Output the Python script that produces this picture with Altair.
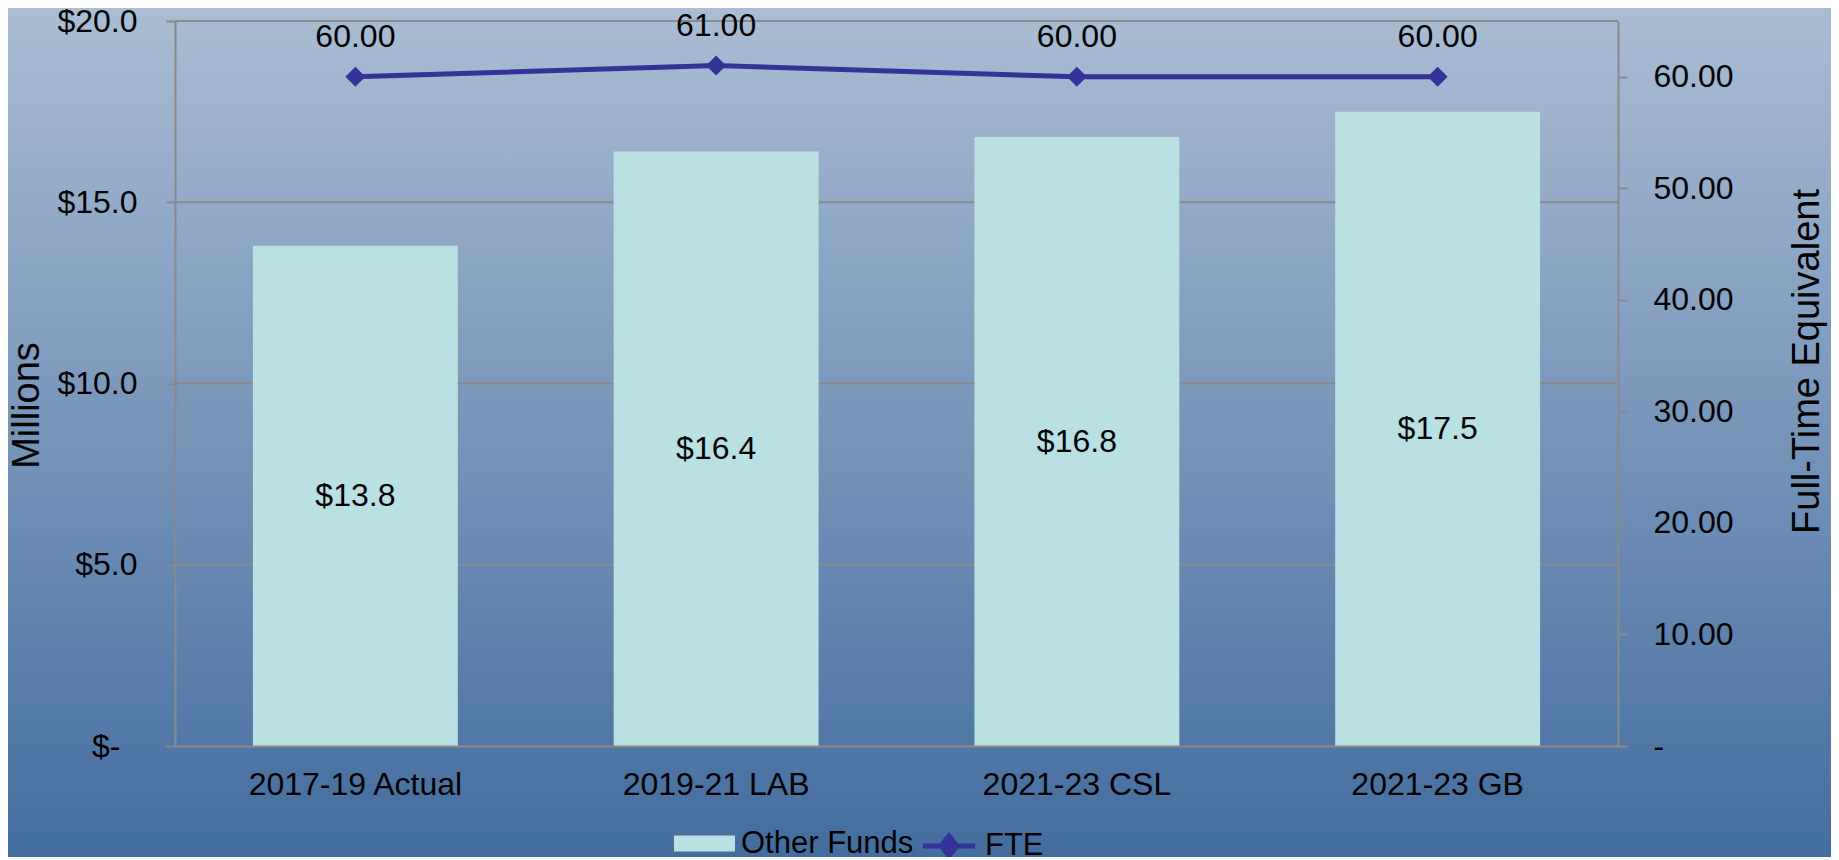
import altair as alt
import pandas as pd

# ---- data ----
categories = ["2017-19 Actual", "2019-21 LAB", "2021-23 CSL", "2021-23 GB"]
other_funds = [13.8, 16.4, 16.8, 17.5]
fte = [60.0, 61.0, 60.0, 60.0]
funds_ticks = [0, 5, 10, 15, 20]
fte_ticks = [0, 10, 20, 30, 40, 50, 60]
series_names = ["Other Funds", "FTE"]

# ---- style ----
W, H = 1443, 725
PAD = {"left": 167, "top": 13, "right": 213, "bottom": 111}
FONT = "Liberation Sans"
FS = 32
TFS = 38
GRAY = "#8A8A8A"
BAR_COLOR = "#B9E0E3"
LINE_COLOR = "#333399"

df = pd.DataFrame({"cat": categories, "funds": other_funds, "fte": fte})
df["funds_series"] = series_names[0]
df["fte_series"] = series_names[1]
grid_df = pd.DataFrame({"g": funds_ticks[1:]})
bg_df = pd.DataFrame({"k": [0]})

x_enc = alt.X(
    "cat:N", sort=categories, title=None,
    scale=alt.Scale(paddingInner=0.432, paddingOuter=0.216),
    axis=alt.Axis(labelAngle=0, ticks=False, tickSize=0, labelPadding=23,
                  labelBaseline="top", labelLimit=0, zindex=3),
)

funds_scale = alt.Scale(domain=[0, 20], nice=False, zero=True)
funds_axis = alt.Axis(
    values=funds_ticks, title="Millions", orient="left",
    labelExpr="datum.value == 0 ? '$-' : '$' + format(datum.value, '.1f')",
    tickSize=9,
    labelPadding={"condition": {"test": "datum.value == 0", "value": 46}, "value": 29},
    titleAngle=270, titleAlign="center", titleBaseline="middle",
    titleX=-148, titleY=384, zindex=3,
)
fte_scale = alt.Scale(domain=[0, 65], nice=False, zero=True)
fte_axis = alt.Axis(
    values=fte_ticks, title="Full-Time Equivalent", orient="right",
    labelExpr="datum.value == 0 ? '-' : format(datum.value, '.2f')",
    tickSize=9, labelPadding=26, labelAlign="left",
    titleAngle=270, titleAlign="center", titleBaseline="middle",
    titleX=189, titleY=340, zindex=3,
)

gradient = alt.Gradient(
    gradient="linear",
    stops=[alt.GradientStop(color="#AABDD4", offset=0),
           alt.GradientStop(color="#436D9E", offset=1)],
    x1=0, x2=0, y1=0, y2=1,
)
bg = alt.Chart(bg_df).mark_rect(fill=gradient, clip=False).encode(
    x=alt.value(-PAD["left"]), x2=alt.value(W + PAD["right"]),
    y=alt.value(-PAD["top"]), y2=alt.value(H + PAD["bottom"]),
)

grid = alt.Chart(grid_df).mark_rule(color=GRAY, strokeWidth=2).encode(
    y=alt.Y("g:Q", scale=funds_scale, axis=funds_axis),
    x=alt.value(0), x2=alt.value(W),
)

bars = alt.Chart(df).mark_bar().encode(
    x=x_enc,
    y=alt.Y("funds:Q", scale=funds_scale, axis=funds_axis),
    fill=alt.Fill(
        "funds_series:N",
        scale=alt.Scale(domain=[series_names[0]], range=[BAR_COLOR]),
        legend=alt.Legend(
            title=None, orient="none", legendX=499, legendY=792,
            symbolType="M-1,-0.26L1,-0.26L1,0.26L-1,0.26Z",
            symbolSize=3721, symbolStrokeWidth=0, labelOffset=6,
        ),
    ),
)

bar_text = alt.Chart(df).transform_calculate(
    mid="datum.funds / 2",
    lbl="'$' + format(datum.funds, '.1f')",
).mark_text(font=FONT, fontSize=FS, color="black", baseline="middle").encode(
    x=x_enc,
    y=alt.Y("mid:Q", scale=funds_scale, axis=funds_axis),
    text="lbl:N",
)

left = alt.layer(grid, bars, bar_text)

line = alt.Chart(df).mark_line(strokeWidth=5).encode(
    x=x_enc,
    y=alt.Y("fte:Q", scale=fte_scale, axis=fte_axis),
    stroke=alt.Stroke(
        "fte_series:N",
        scale=alt.Scale(domain=[series_names[1]], range=[LINE_COLOR]),
        legend=alt.Legend(
            title=None, orient="none", legendX=744, legendY=795,
            symbolType="M-0.95,0L0.95,0M0,-0.36L0.29,0L0,0.36L-0.29,0Z",
            symbolSize=3025, symbolStrokeWidth=5,
            symbolFillColor=LINE_COLOR, labelOffset=6,
        ),
    ),
)

points = alt.Chart(df).mark_point(
    shape="diamond", filled=True, size=400, color=LINE_COLOR, opacity=1
).encode(
    x=x_enc,
    y=alt.Y("fte:Q", scale=fte_scale, axis=fte_axis),
)

fte_text = alt.Chart(df).transform_calculate(
    lbl="format(datum.fte, '.2f')"
).mark_text(font=FONT, fontSize=FS, color="black", baseline="alphabetic", dy=-30).encode(
    x=x_enc,
    y=alt.Y("fte:Q", scale=fte_scale, axis=fte_axis),
    text="lbl:N",
)

right = alt.layer(line, points, fte_text)

chart = alt.layer(bg, left, right).resolve_scale(y="independent").properties(
    width=W, height=H, padding=PAD,
    autosize=alt.AutoSizeParams(type="none"),
    background="#7895B8",
).configure_view(stroke=None).configure_axis(
    labelFont=FONT, labelFontSize=FS, labelColor="black",
    titleFont=FONT, titleFontSize=TFS, titleColor="black", titleFontWeight="normal",
    domainColor=GRAY, domainWidth=2, tickColor=GRAY, tickWidth=2,
    grid=False,
).configure_legend(
    labelFont=FONT, labelFontSize=31, labelColor="black", padding=0,
    symbolOffset=0, labelLimit=400,
)

chart.save("out.html", embed_options={"renderer": "svg", "actions": False})
